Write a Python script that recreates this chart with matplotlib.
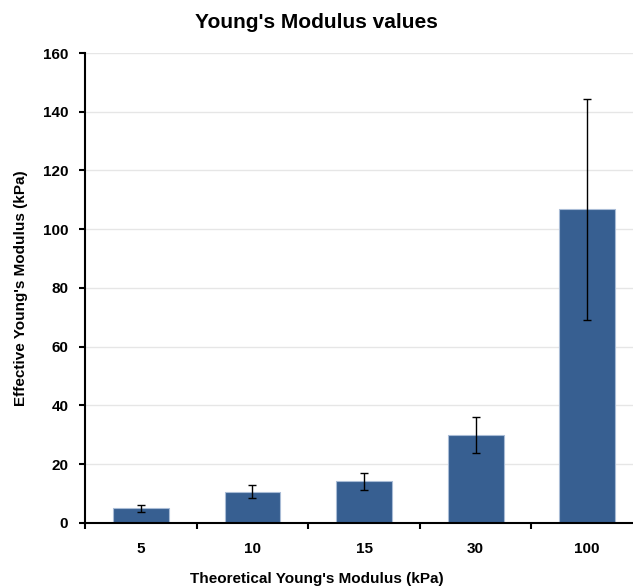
import numpy as np
import matplotlib.pyplot as plt

plt.rcParams['font.family'] = ['Liberation Sans', 'DejaVu Sans']
plt.rcParams['font.weight'] = 'bold'

categories = ['5', '10', '15', '30', '100']
means = [5.0, 10.5, 14.1, 29.9, 106.7]
errors = [1.2, 2.2, 3.0, 6.0, 37.5]

fig = plt.figure(figsize=(6.33, 5.87), dpi=100)
ax = fig.add_axes([0.1343, 0.1095, 0.8815, 0.8002])

x = np.arange(len(categories))
ax.bar(x, means, width=0.5, color='#375f91', edgecolor='#a9bcd6', linewidth=0.8, zorder=2)
ax.errorbar(x, means, yerr=errors, fmt='none', ecolor='black', elinewidth=1.0,
            capsize=3, capthick=1.0, zorder=3)

ax.set_xlim(-0.5, 4.5)
ax.set_ylim(0, 160)
ax.set_yticks(np.arange(0, 161, 20))
ax.yaxis.grid(True, color='#e6e6e6', linewidth=1.0, zorder=0)
ax.set_axisbelow(True)

ax.set_xticks(x)
ax.set_xticklabels(categories, fontsize=11, fontweight='bold')
ax.set_xticks(np.arange(-0.5, 4.6, 1.0), minor=True)
ax.tick_params(axis='x', which='major', length=0, pad=14)
ax.tick_params(axis='x', which='minor', length=4, width=1.5, direction='out')
ax.tick_params(axis='y', length=4, width=1.5, direction='out', labelsize=11, pad=8)
for lbl in ax.get_yticklabels():
    lbl.set_fontweight('bold')

for s in ['top', 'right']:
    ax.spines[s].set_visible(False)
ax.spines['left'].set_linewidth(1.5)
ax.spines['bottom'].set_linewidth(1.5)

ax.set_title("Young's Modulus values", fontsize=15, fontweight='bold', pad=18, x=(316.5 - 85) / 558)
ax.set_ylabel("Effective Young's Modulus (kPa)", fontsize=11, fontweight='bold')
ax.yaxis.set_label_coords(-(85 - 28) / 558, 0.5)
ax.set_xlabel("Theoretical Young's Modulus (kPa)", fontsize=11, fontweight='bold')
ax.xaxis.set_label_coords((316.5 - 85) / 558, -0.105)

fig.savefig('out.png', dpi=100)
